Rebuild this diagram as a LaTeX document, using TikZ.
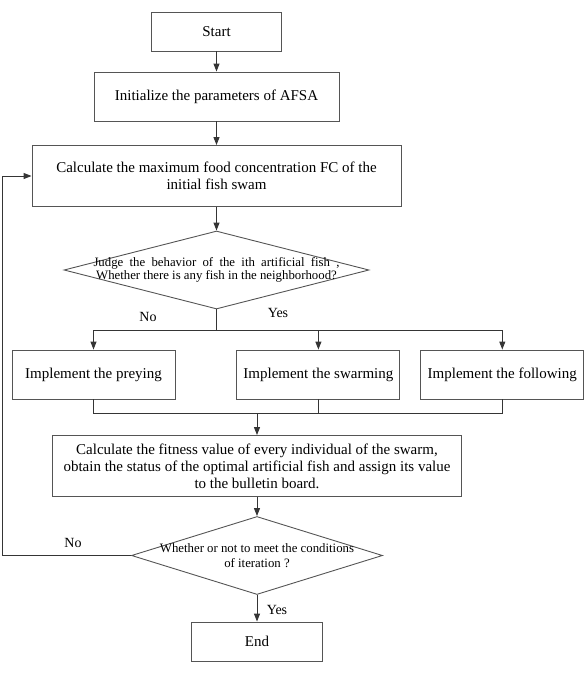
\documentclass[tikz,border=0pt]{standalone}
\usepackage{fontspec}
\setmainfont{Liberation Serif}
\usetikzlibrary{shapes.geometric, arrows.meta, positioning, calc}
\definecolor{lineG}{HTML}{353535}
\definecolor{boxG}{HTML}{555555}

\begin{document}
\begin{tikzpicture}[
  x=1pt, y=-1pt,
  flowbox/.style={
    draw=boxG, line width=0.9pt,
    font=\fontsize{15}{17}\selectfont,
    align=center, inner sep=2pt,
    minimum width=#1
  },
  judgebox/.style={
    diamond, draw=boxG, line width=0.9pt,
    inner sep=0pt, minimum width=#1
  },
  dtext/.style={
    font=\fontsize{12.8}{13}\selectfont,
    align=center, inner sep=0pt
  },
  lbl/.style={font=\fontsize{14}{16}\selectfont, inner sep=0pt},
  arr/.style={-{Triangle[length=8pt, width=6pt]}, line width=0.9pt, lineG},
  link/.style={line width=0.9pt, lineG},
]
\useasboundingbox (0,0) rectangle (585,683);

%% ═══ START + INITIALISATION ═══
\node[flowbox=130pt, minimum height=39pt] (start) at (216.5,31.5) {Start};

\node[flowbox=245pt, minimum height=49pt] (init) at (216.5,96.5)
  {Initialize the parameters of AFSA};
\draw[arr] (start.south) -- (init.north);

\node[flowbox=369pt, minimum height=61pt] (calc) at (216.5,176)
  {Calculate the maximum food concentration FC of the\\
   initial fish swam};
\draw[arr] (init.south) -- (calc.north);

%% ═══ BEHAVIOUR CHOICE ═══
\node[judgebox=305pt, minimum height=78pt,
  label={[dtext]center:{\makebox[246pt][s]{Judge the behavior of the ith artificial fish ,}\\
    Whether there is any fish in the neighborhood?}}] (judge) at (216.5,270) {};
\draw[arr] (calc.south) -- (judge.north);

\node[flowbox=163pt, minimum height=49pt] (prey) at (93.5,374.5) {Implement the preying};
\node[flowbox=163pt, minimum height=49pt, right=61pt of prey] (swarm) {Implement the swarming};
\node[flowbox=163pt, minimum height=49pt, right=20pt of swarm] (follow) {Implement the following};

\draw[link] (judge.south) -- ++(0,21) coordinate (split);
\draw[arr] (split) -| (prey.north);
\draw[arr] (split) -| (follow.north);
\draw[arr] (split -| swarm.north) -- (swarm.north);

\node[lbl] (no1) at (148,317) {No};
\node[lbl] (yes1) at (278,313) {Yes};

%% ═══ FITNESS + BULLETIN BOARD ═══
\node[flowbox=409pt, minimum height=61pt] (fit) at (257,466)
  {Calculate the fitness value of every individual of the swarm,\\
   obtain the status of the optimal artificial fish and assign its value\\
   to the bulletin board.};

\draw[link] (prey.south) -- ++(0,14) coordinate (merge) -| (follow.south);
\draw[link] (swarm.south) -- (swarm.south |- merge);
\draw[arr] (fit.north |- merge) -- (fit.north);

%% ═══ TERMINATION TEST ═══
\node[judgebox=251pt, minimum height=78pt,
  label={[dtext, font=\fontsize{12.8}{15}\selectfont]center:{Whether or not to meet the conditions\\
    of iteration ?}}] (cond) at (257,555.5) {};
\draw[arr] (fit.south) -- (cond.north);

\node[flowbox=131pt, minimum height=39pt] (end) at (257,641.5) {End};
\draw[arr] (cond.south) -- (end.north);
\node[lbl] (yes2) at (277,610) {Yes};

%% ═══ ITERATION LOOP ═══
\coordinate (back) at (2.5,555.5);
\draw[arr] (cond.west) -- (back) |- (calc.west);
\node[lbl] (no2) at (73,543) {No};

\end{tikzpicture}
\end{document}
